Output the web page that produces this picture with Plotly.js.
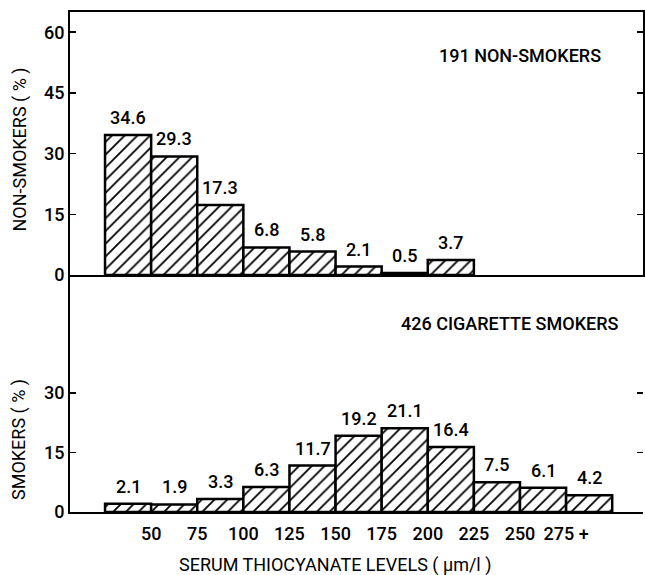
<!DOCTYPE html>
<html>
<head>
<meta charset="utf-8">
<script src="https://cdn.plot.ly/plotly-3.0.1.min.js"></script>
<style>html,body{margin:0;padding:0;background:#fff;}#chart{width:645px;height:575px;}</style>
</head>
<body>
<div id="chart"></div>
<script>
// Bin lower edges (um/l), bins 25 wide
const binStartsNon = [25, 50, 75, 100, 125, 150, 175, 200];
const nonSmokers = [34.6, 29.3, 17.3, 6.8, 5.8, 2.1, 0.5, 3.7];
const binStartsSmk = [25, 50, 75, 100, 125, 150, 175, 200, 225, 250, 275];
const smokers = [2.1, 1.9, 3.3, 6.3, 11.7, 19.2, 21.1, 16.4, 7.5, 6.1, 4.2];
const xTickVals = [50, 75, 100, 125, 150, 175, 200, 225, 250, 275];
const xTickText = ['50', '75', '100', '125', '150', '175', '200', '225', '250', '275 +'];
const topTicks = [0, 15, 30, 45, 60];
const bottomTicks = [0, 15, 30];

const FONT = 'Roboto, sans-serif';
const binWidth = 25;
const centers = a => a.map(v => v + binWidth / 2);

const barStyle = {
  color: 'white',
  line: {color: 'black', width: 2.5},
  pattern: {shape: '/', fgcolor: 'black', bgcolor: 'white', size: 9, solidity: 0.2}
};

const traces = [
  {type: 'bar', x: centers(binStartsNon), y: nonSmokers, width: binWidth,
   xaxis: 'x2', yaxis: 'y2', marker: barStyle, hoverinfo: 'x+y'},
  {type: 'bar', x: centers(binStartsSmk), y: smokers, width: binWidth,
   xaxis: 'x', yaxis: 'y', marker: barStyle, hoverinfo: 'x+y'}
];

const txtFont = {family: FONT, size: 18, color: 'black', weight: 500};
const titleFont = {family: FONT, size: 18, color: 'black', weight: 400};
const annotations = [];
const fmt = v => v.toFixed(1);
binStartsNon.forEach((b, i) => annotations.push({
  x: b + binWidth / 2, y: nonSmokers[i], xref: 'x2', yref: 'y2', text: fmt(nonSmokers[i]),
  showarrow: false, xanchor: 'center', yanchor: 'bottom', yshift: 5, font: txtFont
}));
binStartsSmk.forEach((b, i) => annotations.push({
  x: b + binWidth / 2, y: smokers[i], xref: 'x', yref: 'y', text: fmt(smokers[i]),
  showarrow: false, xanchor: 'center', yanchor: 'bottom', yshift: 5, font: txtFont
}));
annotations.push(
  {x: 0.785, y: 0.912, xref: 'paper', yref: 'paper', text: '191 NON-SMOKERS', showarrow: false,
   xanchor: 'center', yanchor: 'middle', font: txtFont},
  {x: 0.768, y: 0.378, xref: 'paper', yref: 'paper', text: '426 CIGARETTE SMOKERS', showarrow: false,
   xanchor: 'center', yanchor: 'middle', font: txtFont},
  {x: -0.089, y: 0.725, xref: 'paper', yref: 'paper', text: 'NON-SMOKERS ( % )', showarrow: false,
   xanchor: 'center', yanchor: 'middle', textangle: -90, font: titleFont},
  {x: -0.089, y: 0.144, xref: 'paper', yref: 'paper', text: 'SMOKERS ( % )', showarrow: false,
   xanchor: 'center', yanchor: 'middle', textangle: -90, font: titleFont},
  {x: 0.462, y: -0.106, xref: 'paper', yref: 'paper', text: 'SERUM THIOCYANATE LEVELS ( μm/l )', showarrow: false,
   xanchor: 'center', yanchor: 'middle', font: titleFont}
);

const xr = [6, 316.7];
const tickFont = {family: FONT, size: 18, color: 'black', weight: 500};
const layout = {
  width: 645, height: 575,
  margin: {l: 70, r: 2, t: 12, b: 63},
  paper_bgcolor: 'white', plot_bgcolor: 'white',
  showlegend: false, bargap: 0,
  font: {family: FONT, color: 'black'},
  xaxis: {domain: [0, 1], anchor: 'y', range: xr, tickvals: xTickVals, ticktext: xTickText,
          showgrid: false, zeroline: false, showline: true, linecolor: 'black', linewidth: 2,
          ticks: '', ticklabelstandoff: 4, tickfont: tickFont},
  xaxis2: {domain: [0, 1], anchor: 'y2', range: xr, showticklabels: false, ticks: '',
           showgrid: false, zeroline: false, showline: true, mirror: true, linecolor: 'black', linewidth: 2},
  yaxis: {domain: [0, 0.474], anchor: 'x', range: [0, 59.7], tickvals: bottomTicks,
          showgrid: false, zeroline: false, showline: true, linecolor: 'black', linewidth: 2,
          ticks: 'inside', ticklen: 6, tickwidth: 1.5, tickcolor: 'black', ticklabelstandoff: 0, tickfont: tickFont},
  yaxis3: {overlaying: 'y', side: 'right', anchor: 'x', range: [0, 59.7], tickvals: bottomTicks,
           showgrid: false, zeroline: false, showline: false, showticklabels: false,
           ticks: 'inside', ticklen: 6, tickwidth: 1.5, tickcolor: 'black'},
  yaxis2: {domain: [0.474, 1], anchor: 'x2', range: [0, 65], tickvals: topTicks,
           showgrid: false, zeroline: false, showline: true, mirror: 'ticks', linecolor: 'black', linewidth: 2,
           ticks: 'inside', ticklen: 6, tickwidth: 1.5, tickcolor: 'black', ticklabelstandoff: 0, tickfont: tickFont},
  annotations: annotations
};

// Invisible trace so the right-side tick axis (yaxis3) of the lower panel is drawn
traces.push({type: 'scatter', x: [xr[0]], y: [0], xaxis: 'x', yaxis: 'y3', mode: 'markers',
             marker: {opacity: 0}, hoverinfo: 'skip'});

Plotly.newPlot('chart', traces, layout, {staticPlot: true});
</script>
</body>
</html>
